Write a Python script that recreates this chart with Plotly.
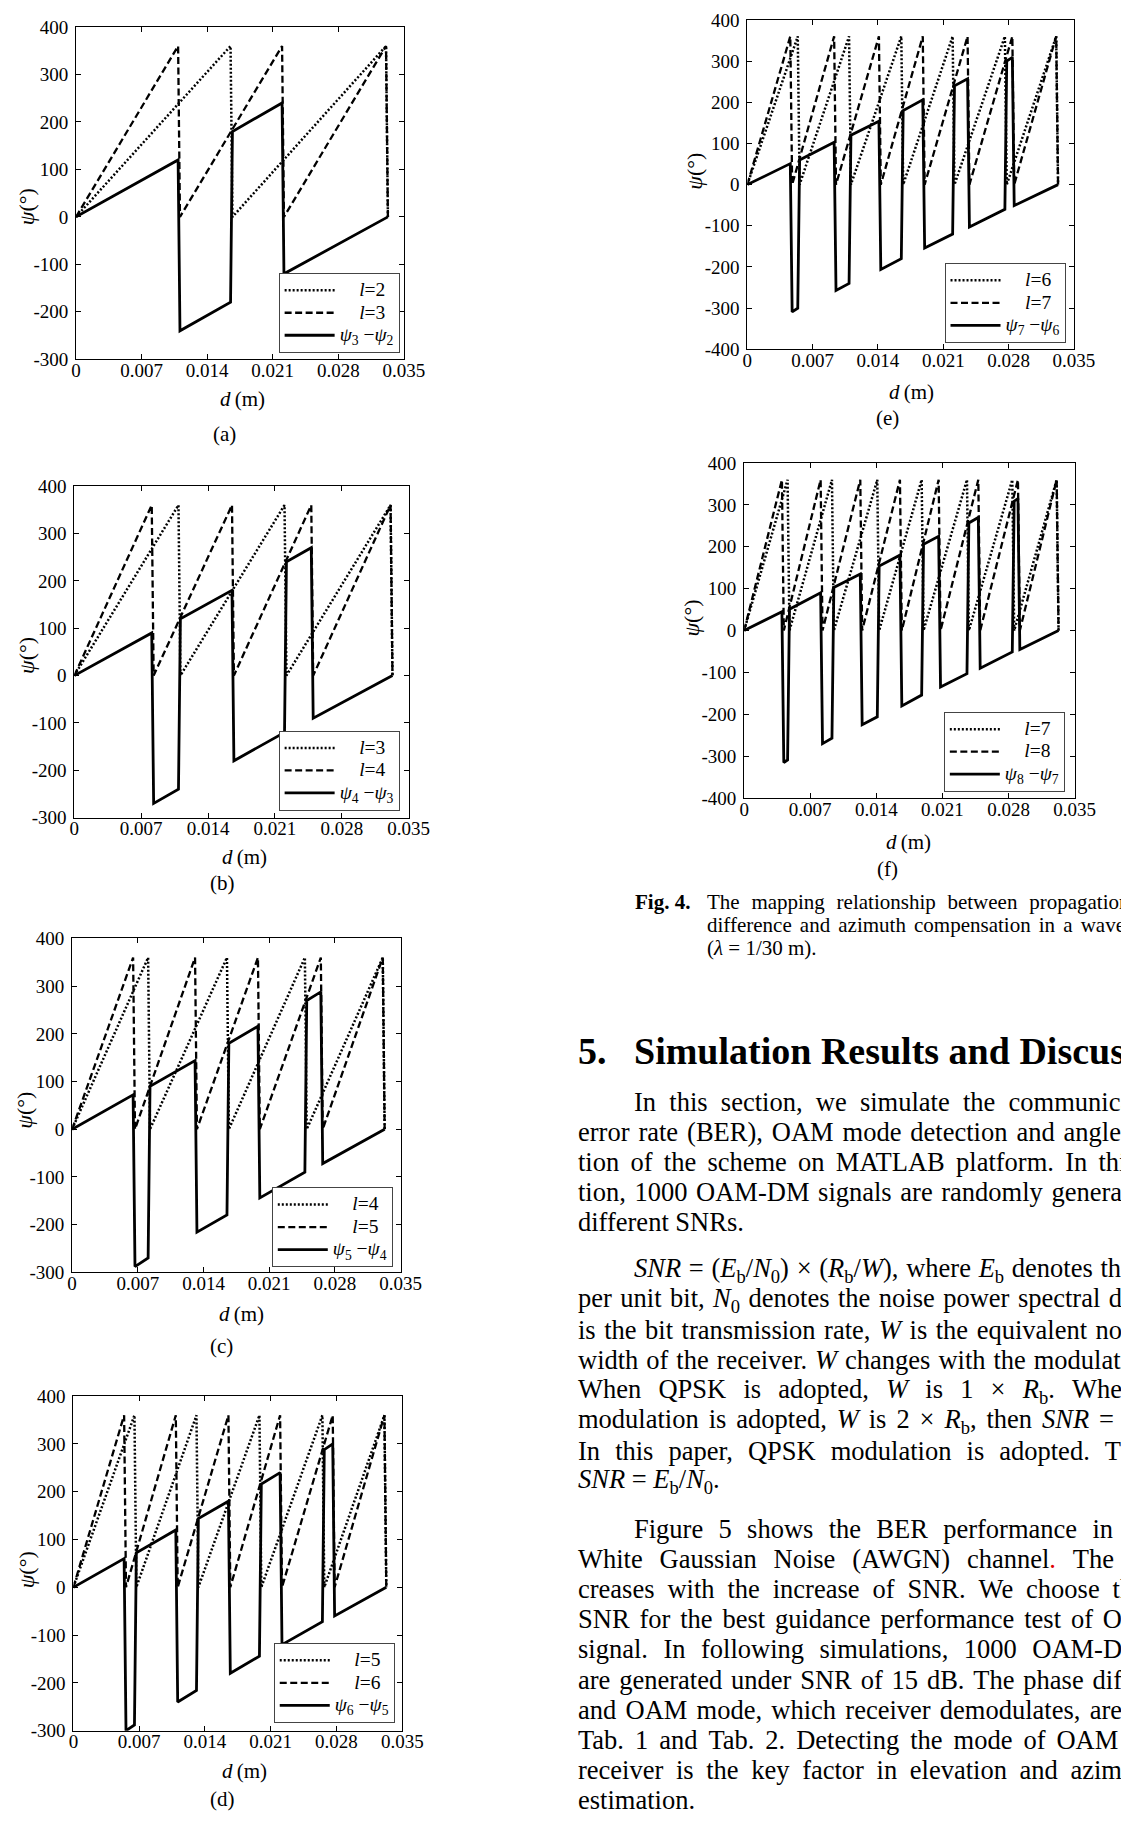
import re
import plotly.graph_objects as go

# ---------------------------------------------------------------------------
# Wrapped phase psi_l (deg) versus distance d (m), lambda = 1/30 m.
# Each list holds the vertices of the saw-tooth of one OAM mode l.
# ---------------------------------------------------------------------------
D_L2 = [0, 0.0165, 0.0167, 0.0331, 0.0333]
PSI_L2 = [0, 360, 0, 360, 0]

D_L3 = [0, 0.0109, 0.0111, 0.0220, 0.0222, 0.0331, 0.0333]
PSI_L3 = [0, 360, 0, 360, 0, 360, 0]

D_L4 = [0, 0.0081, 0.0083, 0.0165, 0.0167, 0.0248, 0.0250, 0.0331, 0.0333]
PSI_L4 = [0, 360, 0, 360, 0, 360, 0, 360, 0]

D_L5 = [0, 0.0065, 0.0067, 0.0131, 0.0133, 0.0198, 0.0200, 0.0265, 0.0267,
        0.0331, 0.0333]
PSI_L5 = [0, 360, 0, 360, 0, 360, 0, 360, 0, 360, 0]

D_L6 = [0, 0.0054, 0.0056, 0.0109, 0.0111, 0.0165, 0.0167, 0.0220, 0.0222,
        0.0276, 0.0278, 0.0331, 0.0333]
PSI_L6 = [0, 360, 0, 360, 0, 360, 0, 360, 0, 360, 0, 360, 0]

D_L7 = [0, 0.0046, 0.0048, 0.0093, 0.0095, 0.0141, 0.0143, 0.0188, 0.0190,
        0.0236, 0.0238, 0.0284, 0.0286, 0.0331, 0.0333]
PSI_L7 = [0, 360, 0, 360, 0, 360, 0, 360, 0, 360, 0, 360, 0, 360, 0]

D_L8 = [0, 0.0040, 0.0042, 0.0081, 0.0083, 0.0123, 0.0125, 0.0165, 0.0167,
        0.0206, 0.0208, 0.0248, 0.0250, 0.0290, 0.0292, 0.0331, 0.0333]
PSI_L8 = [0, 360, 0, 360, 0, 360, 0, 360, 0, 360, 0, 360, 0, 360, 0, 360, 0]

# Phase difference between adjacent modes (deg)
D_DIFF_32 = [0, 0.0109, 0.0111, 0.0165, 0.0167, 0.0220, 0.0222, 0.0333]
DIFF_32 = [0, 120, -240, -180, 180, 240, -120, 0]

D_DIFF_43 = [0, 0.0081, 0.0083, 0.0109, 0.0111, 0.0165, 0.0167, 0.0220,
             0.0222, 0.0248, 0.0250, 0.0333]
DIFF_43 = [0, 90, -270, -240, 120, 180, -180, -120, 240, 270, -90, 0]

D_DIFF_54 = [0, 0.0065, 0.0067, 0.0081, 0.0083, 0.0131, 0.0133, 0.0165,
             0.0167, 0.0198, 0.0200, 0.0248, 0.0250, 0.0265, 0.0267, 0.0333]
DIFF_54 = [0, 72, -288, -270, 90, 144, -216, -180, 180, 216, -144, -90, 270,
           288, -72, 0]

D_DIFF_65 = [0, 0.0054, 0.0056, 0.0065, 0.0067, 0.0109, 0.0111, 0.0131,
             0.0133, 0.0165, 0.0167, 0.0198, 0.0200, 0.0220, 0.0222, 0.0265,
             0.0267, 0.0276, 0.0278, 0.0333]
DIFF_65 = [0, 60, -300, -288, 72, 120, -240, -216, 144, 180, -180, -144, 216,
           240, -120, -72, 288, 300, -60, 0]

D_DIFF_76 = [0, 0.0046, 0.0048, 0.0054, 0.0056, 0.0093, 0.0095, 0.0109,
             0.0111, 0.0141, 0.0143, 0.0165, 0.0167, 0.0188, 0.0190, 0.0220,
             0.0222, 0.0236, 0.0238, 0.0276, 0.0278, 0.0284, 0.0286, 0.0333]
DIFF_76 = [0, 51, -309, -300, 60, 103, -257, -240, 120, 154, -206, -180, 180,
           206, -154, -120, 240, 257, -103, -60, 300, 309, -51, 0]

D_DIFF_87 = [0, 0.0040, 0.0042, 0.0046, 0.0048, 0.0081, 0.0083, 0.0093,
             0.0095, 0.0123, 0.0125, 0.0141, 0.0143, 0.0165, 0.0167, 0.0188,
             0.0190, 0.0206, 0.0208, 0.0236, 0.0238, 0.0248, 0.0250, 0.0284,
             0.0286, 0.0290, 0.0292, 0.0333]
DIFF_87 = [0, 45, -315, -309, 51, 90, -270, -257, 103, 135, -225, -206, 154,
           180, -180, -154, 206, 225, -135, -103, 257, 270, -90, -51, 309,
           315, -45, 0]

# Axis ticks
D_TICKS = [0, 0.007, 0.014, 0.021, 0.028, 0.035]
D_TICK_TEXT = ["0", "0.007", "0.014", "0.021", "0.028", "0.035"]
PSI_TICKS_300 = [-300, -200, -100, 0, 100, 200, 300, 400]
PSI_TICKS_400 = [-400, -300, -200, -100, 0, 100, 200, 300, 400]

MODES = {2: (D_L2, PSI_L2), 3: (D_L3, PSI_L3), 4: (D_L4, PSI_L4),
         5: (D_L5, PSI_L5), 6: (D_L6, PSI_L6), 7: (D_L7, PSI_L7),
         8: (D_L8, PSI_L8)}

W, H = 1121, 1822
SERIF = "Liberation Serif, Times New Roman, serif"


def fx(px):
    return px / W


def fy(py):
    return 1 - py / H


# Page geometry of the six panels (pixels)
PANELS = [
    dict(tag="(a)", lo=2, hi=3, diff=(D_DIFF_32, DIFF_32),
         box=(72.7, 17.3, 408.3, 353.3), yticks=PSI_TICKS_300,
         legend=(404, 347), dlab=(243, 394), tlab=(225, 429), ylab=(22, 199)),
    dict(tag="(b)", lo=3, hi=4, diff=(D_DIFF_43, DIFF_43),
         box=(71, 481.7, 413.3, 817), yticks=PSI_TICKS_300,
         legend=(404, 810), dlab=(245, 857), tlab=(223, 883), ylab=(22, 653)),
    dict(tag="(c)", lo=4, hi=5, diff=(D_DIFF_54, DIFF_54),
         box=(68.7, 939.3, 405, 1277), yticks=PSI_TICKS_300,
         legend=(397, 1272), dlab=(242, 1319), tlab=(222, 1352), ylab=(20, 1113)),
    dict(tag="(d)", lo=5, hi=6, diff=(D_DIFF_65, DIFF_65),
         box=(70, 1402.3, 406.7, 1740.7), yticks=PSI_TICKS_300,
         legend=(399, 1733), dlab=(245, 1782), tlab=(223, 1810), ylab=(22, 1578)),
    dict(tag="(e)", lo=6, hi=7, diff=(D_DIFF_76, DIFF_76),
         box=(760, 10, 1094.3, 343.3), yticks=PSI_TICKS_400,
         legend=(1085.7, 337), dlab=(928, 386), tlab=(903, 413), ylab=(705, 163)),
    dict(tag="(f)", lo=7, hi=8, diff=(D_DIFF_87, DIFF_87),
         box=(756.7, 458.3, 1095, 797.3), yticks=PSI_TICKS_400,
         legend=(1085, 791), dlab=(925, 842), tlab=(903, 869), ylab=(703, 615)),
]

NB = "\u00a0"
LEGEND_TEXT = '<span style="font-size:19.5px">{}</span>'

fig = go.Figure()
layout = dict(
    width=W, height=H, autosize=False,
    margin=dict(l=0, r=0, t=0, b=0, pad=0),
    paper_bgcolor="white", plot_bgcolor="white",
    font=dict(family=SERIF, color="black", size=19),
)
annotations = []

for i, p in enumerate(PANELS):
    sfx = "" if i == 0 else str(i + 1)
    leg = "legend" if i == 0 else f"legend{i + 1}"
    lo_d, lo_psi = MODES[p["lo"]]
    hi_d, hi_psi = MODES[p["hi"]]
    dd, dpsi = p["diff"]
    common = dict(mode="lines", xaxis="x" + sfx, yaxis="y" + sfx, legend=leg,
                  hoverinfo="skip")
    fig.add_trace(go.Scatter(
        x=lo_d, y=lo_psi,
        name=LEGEND_TEXT.format(NB * 4 + f"<i>l</i>={p['lo']}"),
        line=dict(color="black", width=2.5, dash="2px,2px"), **common))
    fig.add_trace(go.Scatter(
        x=hi_d, y=hi_psi,
        name=LEGEND_TEXT.format(NB * 4 + f"<i>l</i>={p['hi']}"),
        line=dict(color="black", width=2.3, dash="7px,3.5px"), **common))
    fig.add_trace(go.Scatter(
        x=dd, y=dpsi,
        name=LEGEND_TEXT.format(
            f"<i>ψ</i><sub>{p['hi']}</sub> −<i>ψ</i><sub>{p['lo']}</sub>"),
        line=dict(color="black", width=2.8), **common))

    x0, y0, x1, y1 = p["box"]
    axis_common = dict(
        showline=True, linecolor="black", linewidth=1, mirror="ticks",
        ticks="inside", ticklen=5, tickwidth=1, tickcolor="black",
        showgrid=False, zeroline=False,
        tickfont=dict(family=SERIF, size=19, color="black"),
    )
    layout["xaxis" + sfx] = dict(
        domain=[fx(x0), fx(x1)], range=[0, 0.035], anchor="y" + sfx,
        tickmode="array", tickvals=D_TICKS, ticktext=D_TICK_TEXT,
        ticklabelstandoff=-6, **axis_common)
    yt = p["yticks"]
    layout["yaxis" + sfx] = dict(
        domain=[fy(y1), fy(y0)], range=[yt[0], yt[-1]], anchor="x" + sfx,
        tickmode="array", tickvals=yt, ticktext=[str(v) for v in yt],
        ticklabelstandoff=3, **axis_common)
    lx, ly = p["legend"]
    layout[leg] = dict(
        x=fx(lx), y=fy(ly), xanchor="right", yanchor="bottom",
        xref="paper", yref="paper",
        bgcolor="white", bordercolor="#444444", borderwidth=1,
        font=dict(family=SERIF, size=15, color="black"),
        itemwidth=50, tracegroupgap=0, traceorder="normal",
    )
    annotations.append(dict(
        text="<i>d</i>\u2009(m)", x=fx(p["dlab"][0]), y=fy(p["dlab"][1]),
        xref="paper", yref="paper", showarrow=False,
        xanchor="center", yanchor="middle", font=dict(size=21)))
    annotations.append(dict(
        text=p["tag"], x=fx(p["tlab"][0]), y=fy(p["tlab"][1]),
        xref="paper", yref="paper", showarrow=False,
        xanchor="center", yanchor="middle", font=dict(size=21)))
    annotations.append(dict(
        text="<i>ψ</i>(°)", x=fx(p["ylab"][0]), y=fy(p["ylab"][1]),
        xref="paper", yref="paper", showarrow=False, textangle=-90,
        xanchor="center", yanchor="middle", font=dict(size=22)))

# ---------------------------------------------------------------------------
# Caption and body text of the right-hand column (justified lines)
# ---------------------------------------------------------------------------
ROMAN = {
    " ": 250, "\u00a0": 250, "!": 333, "(": 333, ")": 333, ",": 250,
    "-": 333, ".": 250, "/": 278, ":": 278, "=": 564, "×": 564,
    "λ": 550, "°": 400,
    "A": 722, "B": 667, "C": 667, "D": 722, "E": 611, "F": 556, "G": 722,
    "H": 722, "I": 333, "J": 389, "K": 722, "L": 611, "M": 889, "N": 722,
    "O": 722, "P": 556, "Q": 722, "R": 667, "S": 556, "T": 611, "U": 722,
    "V": 722, "W": 944, "X": 722, "Y": 722, "Z": 611,
    "a": 444, "b": 500, "c": 444, "d": 500, "e": 444, "f": 333, "g": 500,
    "h": 500, "i": 278, "j": 278, "k": 500, "l": 278, "m": 778, "n": 500,
    "o": 500, "p": 500, "q": 500, "r": 333, "s": 389, "t": 278, "u": 500,
    "v": 500, "w": 722, "x": 500, "y": 500, "z": 444,
}
ITALIC_UPPER = {"E": 611, "N": 667, "R": 611, "S": 500, "W": 833}
for _d in "0123456789":
    ROMAN[_d] = 500


def text_width(rich, size):
    total, scale, italic = 0.0, 1.0, False
    for part in re.split(r"(<[^>]+>)", rich):
        if part.startswith("<"):
            tag = part.lower()
            if tag == "<sub>":
                scale = 0.7
            elif tag == "</sub>":
                scale = 1.0
            elif tag == "<i>":
                italic = True
            elif tag == "</i>":
                italic = False
            continue
        for ch in part:
            w = ITALIC_UPPER[ch] if (italic and ch in ITALIC_UPPER) else ROMAN.get(ch, 500)
            total += w * scale
    return total * size / 1000.0


def spacer(extra, size):
    if extra <= 0.2:
        return ""
    unit = 0.25 * size
    k = int(extra // unit)
    rest = extra - k * unit
    out = NB * k
    if rest > 0.2:
        out += f'<span style="font-size:{4 * rest:.2f}px">{NB}</span>'
    return out


def justify(visible, tail, x0, x1, size):
    if x1 is None:
        return visible
    parts = re.split(r"(<[^>]+>)", visible)
    gaps = sum(s.count(" ") for s in parts if not s.startswith("<"))
    if gaps == 0:
        return visible + tail
    extra = (x1 - x0 - text_width(visible, size)) / gaps
    pad = spacer(extra, size)
    body = "".join(s if s.startswith("<") else s.replace(" ", " " + pad)
                   for s in parts)
    return body + tail


BODY_SIZE = 26.5
CAPTION_SIZE = 21
LINE_PITCH = 30.4
EDGE = 1129

CAPTION_LINES = [
    ("The mapping relationship between propagatio", "n", EDGE),
    ("difference and azimuth compensation in a wav", "elength", EDGE - 3),
    ("(<i>λ</i> = 1/30 m).", "", None),
]

PARAGRAPHS = [
    (1105, [
        (True, "In this section, we simulate the communic", "ation", EDGE),
        (False, "error rate (BER), OAM mode detection and angle", "", EDGE - 1),
        (False, "tion of the scheme on MATLAB platform. In th", "is", EDGE),
        (False, "tion, 1000 OAM-DM signals are randomly genera", "ted", EDGE),
        (False, "different SNRs.", "", None),
    ]),
    (1275, [
        (True, "<i>SNR</i> = (<i>E</i><sub>b</sub>/<i>N</i><sub>0</sub>) × "
               "(<i>R</i><sub>b</sub>/<i>W</i>), where <i>E</i><sub>b</sub> denotes th",
         "e", EDGE),
        (False, "per unit bit, <i>N</i><sub>0</sub> denotes the noise power spectral d",
         "ensity", EDGE),
        (False, "is the bit transmission rate, <i>W</i> is the equivalent no",
         "ise", EDGE),
        (False, "width of the receiver. <i>W</i> changes with the modulat",
         "ion", EDGE),
        (False, "When QPSK is adopted, <i>W</i> is 1 × <i>R</i><sub>b</sub>. Whe",
         "n", EDGE),
        (False, "modulation is adopted, <i>W</i> is 2 × <i>R</i><sub>b</sub>, then "
                "<i>SNR</i> =", "", EDGE - 8),
        (False, "In this paper, QPSK modulation is adopted. T", "hen", EDGE),
        (False, "<i>SNR</i> = <i>E</i><sub>b</sub>/<i>N</i><sub>0</sub>.", "", None),
    ]),
    (1537, [
        (True, "Figure 5 shows the BER performance in", "", EDGE - 8),
        (False, 'White Gaussian Noise (AWGN) channel<span style="color:#e00000">.</span> The',
         "", EDGE - 6),
        (False, "creases with the increase of SNR. We choose t", "he", EDGE),
        (False, "SNR for the best guidance performance test of O", "AM", EDGE),
        (False, "signal. In following simulations, 1000 OAM-D", "M", EDGE),
        (False, "are generated under SNR of 15 dB. The phase dif", "ference", EDGE),
        (False, "and OAM mode, which receiver demodulates, are", "", EDGE),
        (False, "Tab. 1 and Tab. 2. Detecting the mode of OAM", "", EDGE),
        (False, "receiver is the key factor in elevation and azim", "uth", EDGE),
        (False, "estimation.", "", None),
    ]),
]

TEXT_LEFT = 585
TEXT_INDENT = 642

annotations.append(dict(
    text="<b>Fig. 4.</b>", x=fx(642.7), y=fy(902), xref="paper", yref="paper",
    showarrow=False, xanchor="left", yanchor="middle",
    font=dict(size=CAPTION_SIZE)))
for k, (vis, tail, end) in enumerate(CAPTION_LINES):
    annotations.append(dict(
        text=justify(vis, tail, 717, end, CAPTION_SIZE),
        x=fx(717), y=fy(902 + 23.5 * k), xref="paper", yref="paper",
        showarrow=False, xanchor="left", yanchor="middle",
        font=dict(size=CAPTION_SIZE)))

annotations.append(dict(
    text="<b>5.</b>", x=fx(TEXT_LEFT), y=fy(1053), xref="paper", yref="paper",
    showarrow=False, xanchor="left", yanchor="middle", font=dict(size=38)))
annotations.append(dict(
    text="<b>Simulation Results and Discussion</b>", x=fx(TEXT_INDENT),
    y=fy(1053), xref="paper", yref="paper", showarrow=False,
    xanchor="left", yanchor="middle", font=dict(size=38)))

for y_start, lines in PARAGRAPHS:
    for k, (indent, vis, tail, end) in enumerate(lines):
        x0 = TEXT_INDENT if indent else TEXT_LEFT
        annotations.append(dict(
            text=justify(vis, tail, x0, end, BODY_SIZE),
            x=fx(x0), y=fy(y_start + LINE_PITCH * k),
            xref="paper", yref="paper", showarrow=False,
            xanchor="left", yanchor="middle",
            font=dict(size=BODY_SIZE)))

layout["annotations"] = annotations
fig.update_layout(**layout)
fig.write_html("out.html")
